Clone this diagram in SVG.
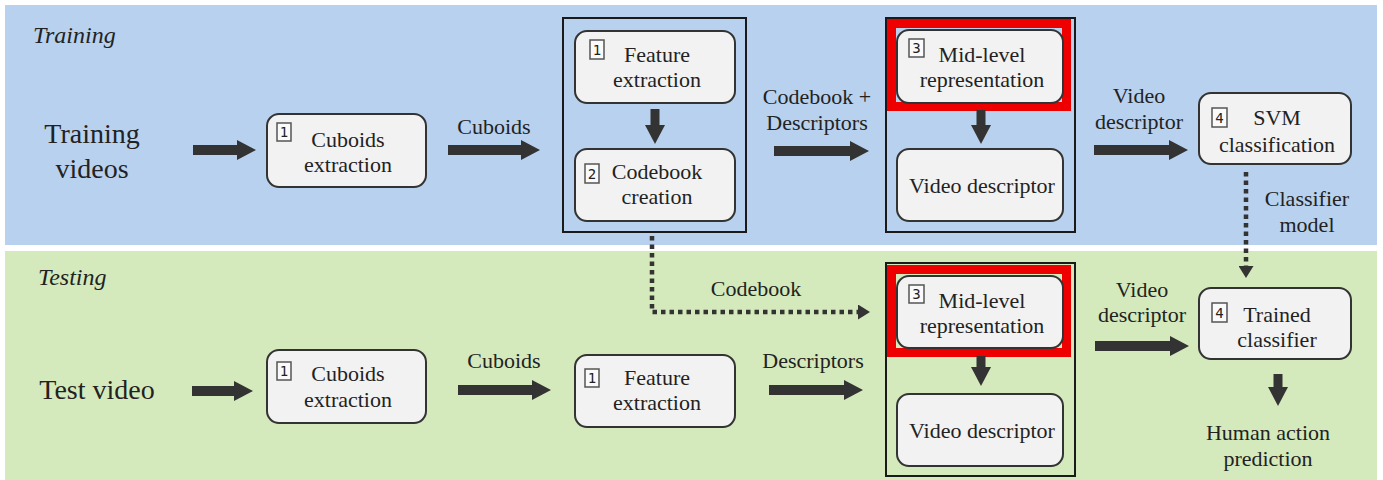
<svg xmlns="http://www.w3.org/2000/svg" width="1383" height="480" viewBox="0 0 1383 480">
<defs>
<marker id="ah" markerUnits="userSpaceOnUse" viewBox="0 0 19 20" refX="0" refY="10" markerWidth="19" markerHeight="20" orient="auto"><path d="M0,0 L19,10 L0,20 Z" fill="#333"/></marker>
<marker id="sh" markerUnits="userSpaceOnUse" viewBox="0 0 12 15" refX="0" refY="7.5" markerWidth="12" markerHeight="15" orient="auto"><path d="M0,0 L12,7.5 L0,15 Z" fill="#333"/></marker>
</defs>
<rect x="0" y="0" width="1383" height="480" fill="#ffffff"/>
<rect id="training-panel" x="5" y="5" width="1372" height="240" fill="#b8d1ee"/>
<rect id="testing-panel" x="5" y="251" width="1372" height="229" fill="#d4eabc"/>
<text x="33" y="43" font-family="Liberation Serif" font-size="24" font-style="italic" fill="#222">Training</text>
<text x="38" y="285" font-family="Liberation Serif" font-size="24" font-style="italic" fill="#222">Testing</text>

<g id="training-videos" font-family="Liberation Serif" font-size="28" fill="#222" text-anchor="middle"><text x="92" y="143">Training</text><text x="92" y="178">videos</text></g>
<g id="test-video" font-family="Liberation Serif" font-size="28" fill="#222" text-anchor="middle"><text x="97" y="399">Test video</text></g>

<g id="frames" fill="none" stroke="#1a1a1a" stroke-width="2">
<rect id="frame-train-1" x="563" y="18" width="183" height="214"/>
<rect id="frame-train-3" x="886" y="18" width="189" height="214"/>
<rect id="frame-test-3" x="886" y="263" width="189" height="213"/>
</g>
<g id="highlights" fill="none" stroke="#ee0000" stroke-width="9">
<rect x="891.5" y="23.5" width="175" height="83"/>
<rect x="891.5" y="269.5" width="175" height="83"/>
</g>

<g id="nodes" font-family="Liberation Serif" font-size="22" fill="#222" text-anchor="middle">
<g id="train-cuboids">
<rect x="267" y="114" width="159" height="73" rx="12" fill="#f2f2f2" stroke="#333" stroke-width="2"/>
<rect x="277" y="123" width="14" height="18" fill="#fafafa" stroke="#555" stroke-width="1.5"/><text font-family="DejaVu Sans Mono" font-size="14" x="284" y="137">1</text>
<text x="348" y="147">Cuboids</text><text x="348" y="172">extraction</text>
</g>
<g id="train-feature">
<rect x="575" y="31" width="160" height="72" rx="12" fill="#f2f2f2" stroke="#333" stroke-width="2"/>
<rect x="590" y="40" width="14" height="19" fill="#fafafa" stroke="#555" stroke-width="1.5"/><text font-family="DejaVu Sans Mono" font-size="14" x="597" y="55">1</text>
<text x="657" y="62">Feature</text><text x="657" y="87">extraction</text>
</g>
<g id="train-codebook">
<rect x="575" y="149" width="160" height="72" rx="12" fill="#f2f2f2" stroke="#333" stroke-width="2"/>
<rect x="585" y="164" width="14" height="19" fill="#fafafa" stroke="#555" stroke-width="1.5"/><text font-family="DejaVu Sans Mono" font-size="14" x="592" y="179">2</text>
<text x="657" y="179">Codebook</text><text x="657" y="204">creation</text>
</g>
<g id="train-midlevel">
<rect x="897" y="30" width="166" height="73" rx="12" fill="#f2f2f2" stroke="#333" stroke-width="2"/>
<rect x="909" y="39" width="15" height="18" fill="#fafafa" stroke="#555" stroke-width="1.5"/><text font-family="DejaVu Sans Mono" font-size="14" x="916.5" y="53">3</text>
<text x="982" y="62">Mid-level</text><text x="982" y="87">representation</text>
</g>
<g id="train-videodesc">
<rect x="897" y="149" width="166" height="72" rx="12" fill="#f2f2f2" stroke="#333" stroke-width="2"/>
<text x="982" y="193">Video descriptor</text>
</g>
<g id="train-svm">
<rect x="1199" y="93" width="152" height="71" rx="12" fill="#f2f2f2" stroke="#333" stroke-width="2"/>
<rect x="1212" y="108" width="15" height="19" fill="#fafafa" stroke="#555" stroke-width="1.5"/><text font-family="DejaVu Sans Mono" font-size="14" x="1219.5" y="123">4</text>
<text x="1277" y="125">SVM</text><text x="1277" y="152">classification</text>
</g>
<g id="test-cuboids">
<rect x="267" y="350" width="159" height="73" rx="12" fill="#f2f2f2" stroke="#333" stroke-width="2"/>
<rect x="277" y="362" width="14" height="18" fill="#fafafa" stroke="#555" stroke-width="1.5"/><text font-family="DejaVu Sans Mono" font-size="14" x="284" y="376">1</text>
<text x="348" y="381">Cuboids</text><text x="348" y="407">extraction</text>
</g>
<g id="test-feature">
<rect x="575" y="355" width="160" height="72" rx="12" fill="#f2f2f2" stroke="#333" stroke-width="2"/>
<rect x="585" y="369" width="14" height="18" fill="#fafafa" stroke="#555" stroke-width="1.5"/><text font-family="DejaVu Sans Mono" font-size="14" x="592" y="383">1</text>
<text x="657" y="385">Feature</text><text x="657" y="410">extraction</text>
</g>
<g id="test-midlevel">
<rect x="897" y="276" width="166" height="72" rx="12" fill="#f2f2f2" stroke="#333" stroke-width="2"/>
<rect x="909" y="285" width="15" height="18" fill="#fafafa" stroke="#555" stroke-width="1.5"/><text font-family="DejaVu Sans Mono" font-size="14" x="916.5" y="299">3</text>
<text x="982" y="308">Mid-level</text><text x="982" y="333">representation</text>
</g>
<g id="test-videodesc">
<rect x="897" y="394" width="166" height="72" rx="12" fill="#f2f2f2" stroke="#333" stroke-width="2"/>
<text x="982" y="438">Video descriptor</text>
</g>
<g id="test-trained">
<rect x="1199" y="288" width="152" height="71" rx="12" fill="#f2f2f2" stroke="#333" stroke-width="2"/>
<rect x="1212" y="303" width="15" height="19" fill="#fafafa" stroke="#555" stroke-width="1.5"/><text font-family="DejaVu Sans Mono" font-size="14" x="1219.5" y="318">4</text>
<text x="1277" y="322">Trained</text><text x="1277" y="347">classifier</text>
</g>
<g id="prediction"><text x="1268" y="440">Human action</text><text x="1268" y="466">prediction</text></g>
</g>

<g id="connectors" fill="none" stroke="#333" marker-end="url(#ah)">
<line stroke-width="10" x1="193" y1="150" x2="237" y2="150"/>
<line stroke-width="10" x1="448" y1="150" x2="521" y2="150"/>
<line stroke-width="9" x1="655" y1="109" x2="655" y2="125"/>
<line stroke-width="10" x1="774" y1="151" x2="850" y2="151"/>
<line stroke-width="9" x1="981" y1="110" x2="981" y2="125"/>
<line stroke-width="10" x1="1094" y1="150" x2="1169" y2="150"/>
<line stroke-width="4.5" stroke-dasharray="4.5 4" marker-end="url(#sh)" x1="1246" y1="172" x2="1246" y2="266"/>
<path stroke-width="4.5" stroke-dasharray="4.5 4" marker-end="url(#sh)" d="M652,236 V312 H858"/>
<line stroke-width="10" x1="192" y1="391" x2="234" y2="391"/>
<line stroke-width="10" x1="458" y1="390" x2="532" y2="390"/>
<line stroke-width="10" x1="769" y1="390" x2="844" y2="390"/>
<line stroke-width="9" x1="981" y1="356" x2="981" y2="367"/>
<line stroke-width="10" x1="1095" y1="346" x2="1170" y2="346"/>
<line stroke-width="9" x1="1278" y1="374" x2="1278" y2="387"/>
</g>
<g id="labels" font-family="Liberation Serif" font-size="22" fill="#222" text-anchor="middle">
<text x="494" y="134">Cuboids</text>
<text x="817" y="104">Codebook +</text><text x="817" y="130">Descriptors</text>
<text x="1139" y="103">Video</text><text x="1139" y="129">descriptor</text>
<text x="1307" y="206">Classifier</text><text x="1307" y="232">model</text>
<text x="756" y="296">Codebook</text>
<text x="504" y="368">Cuboids</text>
<text x="813" y="368">Descriptors</text>
<text x="1142" y="297">Video</text><text x="1142" y="322">descriptor</text>
</g>
</svg>
